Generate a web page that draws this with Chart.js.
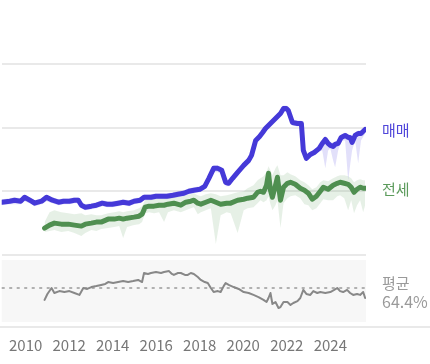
<!DOCTYPE html>
<html>
<head>
<meta charset="utf-8">
<script src="https://cdn.jsdelivr.net/npm/chart.js@4.4.1/dist/chart.umd.min.js"></script>
<style>
  html, body { margin: 0; padding: 0; background: #fff; }
  #wrap { width: 430px; height: 364px; }
</style>
</head>
<body>
<div id="wrap"><canvas id="c" width="430" height="364"></canvas></div>
<script>
// ---- data ----
const tickYears = [2010, 2012, 2014, 2016, 2018, 2020, 2022, 2024];
const seriesNames = ['매매', '전세'];
const avgLabel = '평균';
const avgRatio = 64.4;

// 매매 (sale) index
const saleDates = [2008.90,2009.27,2009.49,2009.77,2009.95,2010.27,2010.41,2010.73,2010.96,2011.23,2011.51,2011.74,2012.01,2012.24,2012.42,2012.56,2012.74,2013.02,2013.25,2013.52,2013.75,2013.98,2014.25,2014.48,2014.76,2014.98,2015.26,2015.44,2015.76,2015.99,2016.27,2016.49,2016.77,2017.00,2017.27,2017.50,2017.73,2018.00,2018.23,2018.42,2018.64,2018.83,2019.01,2019.19,2019.33,2019.51,2019.74,2020.02,2020.25,2020.38,2020.57,2020.75,2020.89,2021.02,2021.25,2021.48,2021.71,2021.85,2021.98,2022.07,2022.26,2022.49,2022.67,2022.76,2022.90,2023.08,2023.26,2023.49,2023.63,2023.77,2023.90,2024.00,2024.13,2024.22,2024.36,2024.50,2024.68,2024.82,2024.91,2025.00,2025.14,2025.28,2025.41,2025.60];
const saleIndex = [828,844,859,844,906,844,813,844,906,859,828,844,844,859,859,781,750,766,781,813,797,797,813,828,813,844,859,906,906,922,922,922,938,953,969,1000,1016,1031,1078,1203,1359,1359,1328,1141,1125,1203,1297,1406,1484,1563,1797,1859,1922,1984,2063,2141,2219,2297,2297,2266,2078,2063,2063,1641,1516,1578,1609,1672,1750,1813,1750,1719,1703,1734,1750,1844,1875,1844,1844,1766,1875,1906,1906,1969];
const saleLow   = [781,797,797,797,844,797,766,797,844,813,781,797,797,813,813,734,703,719,734,766,750,750,766,781,766,797,813,859,859,875,875,875,891,906,922,953,969,984,1031,1141,1297,1297,1266,1078,1078,1156,1250,1359,1438,1516,1750,1813,1875,1938,2016,2094,2172,2250,2250,2219,2031,2016,2016,1594,1469,1531,1563,1625,1641,1359,1641,1672,1484,1375,1641,1797,1797,1172,1406,1641,1797,1438,1797,1906];
const saleHigh  = [875,891,906,891,938,891,859,891,938,906,875,891,891,906,906,828,797,813,828,859,844,844,859,875,859,891,906,953,953,969,969,969,984,1000,1016,1047,1063,1078,1125,1250,1406,1406,1375,1188,1172,1250,1344,1453,1531,1609,1844,1906,1969,2031,2109,2188,2266,2344,2344,2313,2125,2109,2109,1688,1563,1625,1656,1719,1797,1859,1797,1766,1766,1781,1797,1891,1922,1891,1891,1813,1922,1953,1953,2016];

// 전세 (jeonse) index
const rentDates = [2010.87,2011.10,2011.32,2011.64,2011.96,2012.24,2012.56,2012.74,2013.02,2013.25,2013.47,2013.79,2014.07,2014.30,2014.48,2014.66,2014.98,2015.21,2015.35,2015.49,2015.67,2015.90,2016.13,2016.36,2016.54,2016.81,2017.13,2017.36,2017.59,2017.73,2017.91,2018.05,2018.28,2018.51,2018.74,2018.96,2019.24,2019.42,2019.74,2020.02,2020.20,2020.47,2020.66,2020.79,2020.93,2021.07,2021.16,2021.25,2021.34,2021.48,2021.57,2021.71,2021.85,2022.03,2022.17,2022.39,2022.62,2022.81,2022.99,2023.17,2023.36,2023.54,2023.68,2023.90,2024.13,2024.32,2024.45,2024.64,2024.82,2024.96,2025.09,2025.23,2025.37,2025.51,2025.60];
const rentIndex = [422,469,500,484,484,469,453,484,500,516,516,563,563,578,563,578,594,609,641,750,766,766,781,781,797,813,781,828,844,859,813,797,828,859,828,797,813,813,859,875,891,906,984,1000,984,1094,1281,1016,906,1094,1219,859,1063,1125,1141,1109,1047,1016,969,875,922,1000,1063,1031,1094,1125,1141,1125,1109,1063,984,1031,1063,1047,1047];
const rentLow   = [359,375,391,359,375,344,297,344,391,375,406,422,438,453,266,438,469,484,516,656,672,656,672,516,672,703,672,703,734,750,641,672,703,734,172,625,672,656,344,703,734,750,813,859,828,859,922,797,703,781,859,422,813,891,922,938,891,797,781,703,734,813,875,859,859,922,938,891,703,859,656,781,859,672,781];
const rentHigh  = [516,672,703,672,656,641,656,625,641,625,625,656,672,688,672,688,703,734,766,859,875,891,891,891,922,938,906,938,953,969,938,922,953,969,953,922,938,953,984,1000,1047,1094,1172,1203,1234,1297,1391,1328,1250,1359,1406,1250,1250,1297,1266,1234,1172,1141,1094,1031,1063,1141,1172,1156,1203,1234,1250,1250,1234,1203,1141,1172,1188,1172,1172];

// 전세/매매 ratio (%)
const ratioDates = [2010.87,2011.00,2011.19,2011.32,2011.55,2011.78,2012.01,2012.24,2012.47,2012.65,2012.83,2013.02,2013.25,2013.47,2013.66,2013.79,2014.02,2014.25,2014.48,2014.71,2014.94,2015.17,2015.35,2015.44,2015.62,2015.76,2015.99,2016.22,2016.36,2016.59,2016.72,2016.81,2017.00,2017.13,2017.32,2017.45,2017.59,2017.73,2017.91,2018.05,2018.23,2018.37,2018.51,2018.64,2018.83,2018.96,2019.10,2019.19,2019.33,2019.56,2019.79,2020.02,2020.25,2020.47,2020.70,2020.93,2021.07,2021.16,2021.25,2021.34,2021.48,2021.62,2021.71,2021.85,2022.03,2022.17,2022.30,2022.49,2022.62,2022.76,2022.90,2023.08,2023.22,2023.40,2023.54,2023.77,2024.00,2024.18,2024.32,2024.45,2024.59,2024.77,2024.91,2025.05,2025.23,2025.37,2025.51,2025.60];
const ratioPct = [59.4,61.9,64.4,62.3,63.1,62.7,63.1,62.3,61.5,64.4,64.0,64.8,65.2,65.7,66.1,66.9,66.5,66.9,67.3,66.9,67.3,67.8,66.9,70.7,70.3,70.7,71.1,70.7,71.1,71.5,70.3,69.9,70.7,70.7,69.9,69.9,70.7,70.3,69.0,67.8,66.9,66.5,64.4,62.7,63.1,62.7,65.2,66.5,65.7,64.8,64.0,62.7,62.3,61.5,60.6,59.4,58.5,60.2,62.3,57.7,58.5,56.0,56.4,58.5,58.5,57.3,58.1,58.9,60.2,63.6,61.9,61.5,63.1,62.3,62.7,62.3,62.7,63.6,64.4,63.1,62.7,63.6,62.3,61.5,61.9,61.5,62.7,60.2];

// ---- styling ----
const FONT = "'Noto Sans CJK KR', 'Noto Sans', sans-serif";
const BLUE = '#4539d8';
const GREEN = '#4f8f50';
const pts = (xs, ys) => xs.map((x, i) => ({ x: x, y: ys[i] }));

const panelsPlugin = {
  id: 'panels',
  beforeDatasetsDraw(chart) {
    const { ctx, chartArea, scales } = chart;
    const yb = scales.yBot;
    ctx.save();
    const t = yb.getPixelForValue(76.16), b = yb.getPixelForValue(50.12);
    ctx.fillStyle = '#f7f7f7';
    ctx.fillRect(chartArea.left, t, chartArea.right - chartArea.left, b - t);
    const ya = yb.getPixelForValue(avgRatio);
    ctx.strokeStyle = '#9a9a9a';
    ctx.lineWidth = 1.5;
    ctx.setLineDash([3, 4.5]);
    ctx.beginPath();
    ctx.moveTo(chartArea.left, ya);
    ctx.lineTo(chartArea.right + 2, ya);
    ctx.stroke();
    ctx.restore();
  },
  afterDraw(chart) {
    const { ctx, chartArea, scales } = chart;
    const yt = scales.yTop, yb = scales.yBot;
    ctx.save();
    ctx.strokeStyle = '#e9e9e9';
    ctx.lineWidth = 2;
    ctx.beginPath();
    ctx.moveTo(0, yb.bottom);
    ctx.lineTo(chart.width, yb.bottom);
    ctx.stroke();
    const lx = chartArea.right + 16;
    ctx.textAlign = 'left';
    ctx.textBaseline = 'middle';
    ctx.font = '15px ' + FONT;
    ctx.fillStyle = '#5046da';
    ctx.fillText(seriesNames[0], lx, yt.getPixelForValue(saleIndex[saleIndex.length - 1]) + 1);
    ctx.fillStyle = '#5c9b5c';
    ctx.fillText(seriesNames[1], lx, yt.getPixelForValue(rentIndex[rentIndex.length - 1]) + 1);
    ctx.fillStyle = '#9a9a9a';
    ctx.font = '15px ' + FONT;
    const ya = yb.getPixelForValue(avgRatio);
    ctx.fillText(avgLabel, lx, ya - 5);
    ctx.font = '16px ' + FONT;
    ctx.fillText(avgRatio.toFixed(1) + '%', lx, ya + 14);
    ctx.restore();
  }
};

const lineBase = { pointRadius: 0, tension: 0, borderJoinStyle: 'round', borderCapStyle: 'round', fill: false };

new Chart(document.getElementById('c'), {
  type: 'line',
  data: {
    datasets: [
      Object.assign({}, lineBase, { data: pts(saleDates, saleLow), borderWidth: 0, yAxisID: 'yTop', order: 5 }),
      Object.assign({}, lineBase, { data: pts(saleDates, saleHigh), borderWidth: 0, yAxisID: 'yTop', fill: '-1', backgroundColor: 'rgba(110,100,230,0.2)', order: 5 }),
      Object.assign({}, lineBase, { data: pts(rentDates, rentLow), borderWidth: 0, yAxisID: 'yTop', order: 4 }),
      Object.assign({}, lineBase, { data: pts(rentDates, rentHigh), borderWidth: 0, yAxisID: 'yTop', fill: '-1', backgroundColor: 'rgba(100,160,100,0.16)', order: 4 }),
      Object.assign({}, lineBase, { label: seriesNames[1], data: pts(rentDates, rentIndex), borderColor: GREEN, borderWidth: 5, yAxisID: 'yTop', order: 2 }),
      Object.assign({}, lineBase, { label: seriesNames[0], data: pts(saleDates, saleIndex), borderColor: BLUE, borderWidth: 5, yAxisID: 'yTop', order: 1 }),
      Object.assign({}, lineBase, { label: '비율', data: pts(ratioDates, ratioPct), borderColor: '#888888', borderWidth: 2, yAxisID: 'yBot', order: 1 })
    ]
  },
  options: {
    responsive: false,
    animation: false,
    events: [],
    layout: { padding: { left: 0, right: 64, top: 0, bottom: 1 } },
    plugins: { legend: { display: false }, tooltip: { enabled: false }, title: { display: false } },
    scales: {
      x: {
        type: 'linear', min: 2008.9, max: 2025.64,
        grid: { display: false, drawTicks: false, tickLength: 0 },
        border: { display: false },
        afterBuildTicks: s => { s.ticks = tickYears.map(v => ({ value: v })); },
        ticks: { autoSkip: false, maxRotation: 0, padding: 9, color: '#777', font: { size: 15, family: FONT }, callback: v => String(v) }
      },
      yBot: {
        type: 'linear', position: 'left', stack: 'panels', stackWeight: 72, min: 48.02, max: 78.26,
        ticks: { display: false },
        grid: { display: false, drawTicks: false, tickLength: 0 },
        border: { display: false }
      },
      yTop: {
        type: 'linear', position: 'left', stack: 'panels', stackWeight: 255, min: 0, max: 4000,
        ticks: { display: false },
        grid: { color: '#e9e9e9', lineWidth: 2, drawTicks: false, tickLength: 0 },
        border: { display: false },
        afterBuildTicks: s => { s.ticks = [0, 1000, 2000, 3000].map(v => ({ value: v })); }
      }
    }
  },
  plugins: [panelsPlugin]
});
</script>
</body>
</html>
